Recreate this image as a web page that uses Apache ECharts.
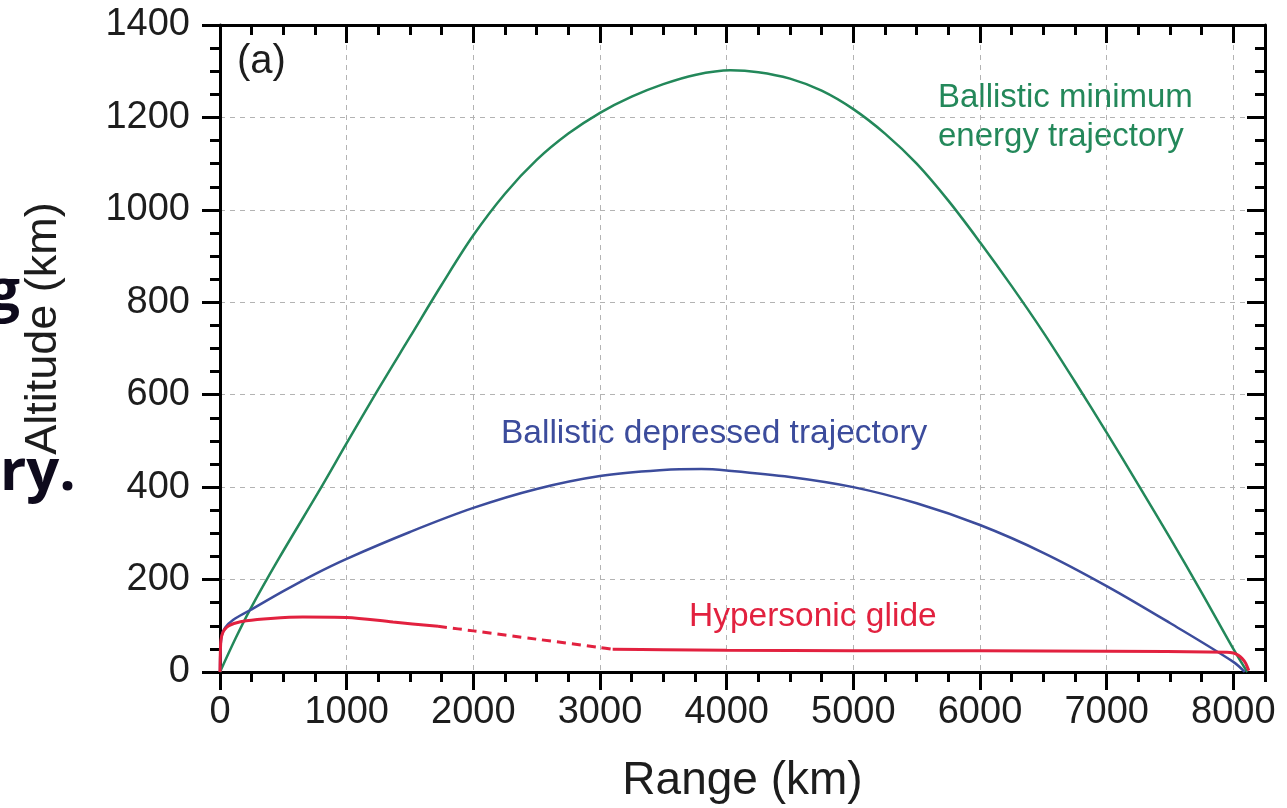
<!DOCTYPE html>
<html>
<head>
<meta charset="utf-8">
<script src="https://cdn.jsdelivr.net/npm/echarts@6/dist/echarts.min.js"></script>
<style>
  html, body { margin: 0; padding: 0; background: #ffffff; }
  #chart { width: 1287px; height: 808px; }
</style>
</head>
<body>
<div id="chart"></div>
<script>
// Trajectory profiles: [range (km), altitude (km)]
const minimumEnergy = [
  [0, 0], [125, 74], [233, 133], [457, 242], [800, 400], [1000, 495], [1250, 612],
  [1500, 725], [1750, 838], [2000, 945], [2250, 1035], [2500, 1108], [2750, 1165],
  [3000, 1210], [3250, 1245], [3500, 1272], [3750, 1292], [4030, 1302], [4250, 1298],
  [4500, 1284], [4750, 1258], [5000, 1218], [5250, 1165], [5500, 1100], [5750, 1020],
  [6000, 930], [6250, 835], [6500, 735], [6750, 628], [7000, 518], [7250, 405],
  [7500, 290], [7750, 172], [8000, 50], [8110, 0]
];
const depressed = [
  [0, 0], [4, 52], [15, 80], [40, 96], [100, 112], [233, 133], [500, 175], [750, 212],
  [1000, 245], [1500, 303], [2000, 355], [2500, 396], [3000, 424], [3500, 437],
  [3800, 439], [4000, 436], [4500, 422], [5000, 400], [5500, 365], [6000, 318],
  [6500, 258], [7000, 186], [7500, 106], [8000, 22], [8090, 0]
];
const glideBoost = [
  [0, 0], [3, 45], [8, 70], [20, 84], [40, 93], [70, 100], [110, 105], [207, 111],
  [400, 116], [654, 119], [1000, 118], [1366, 108], [1721, 99]
];
const glideUncertain = [
  [1721, 99], [2000, 89], [2500, 71], [3000, 53], [3100, 49]
];
const glideCruise = [
  [3100, 49], [3500, 48], [4000, 47], [5000, 46], [6000, 46], [7000, 45], [7950, 43],
  [8000, 41], [8040, 36], [8070, 29], [8095, 20], [8110, 11], [8122, 3]
];

// Axis ticks
const rangeTicks = [0, 1000, 2000, 3000, 4000, 5000, 6000, 7000, 8000];
const altitudeTicks = [0, 200, 400, 600, 800, 1000, 1200, 1400];
const rangeMinor = [];
for (let v = 250; v <= 8250; v += 250) if (v % 1000) rangeMinor.push(v);
const altitudeMinor = [];
for (let v = 50; v < 1400; v += 50) if (v % 200) altitudeMinor.push(v);

const FONT = 'Liberation Sans, Arial, sans-serif';
const GREEN = '#23885a', BLUE = '#3c4c9c', RED = '#e2213f';
const INK = '#1d1d1d';

const spine = { show: true, onZero: false, lineStyle: { color: '#000', width: 3 } };
const noSpine = { show: false, onZero: false };
const tickStyle = { color: '#000', width: 3 };
const plain = v => String(v);

function xAxisDef(position, values, len, inside, withSpine, extra) {
  return Object.assign({
    type: 'value', min: 0, max: 8250, interval: 1000, position: position,
    axisLine: withSpine ? spine : noSpine,
    axisTick: { show: true, customValues: values, length: len, inside: inside, lineStyle: tickStyle },
    axisLabel: { show: false },
    splitLine: { show: false }
  }, extra || {});
}
function yAxisDef(position, values, len, inside, withSpine, extra) {
  return Object.assign({
    type: 'value', min: 0, max: 1400, interval: 200, position: position,
    axisLine: withSpine ? spine : noSpine,
    axisTick: { show: true, customValues: values, length: len, inside: inside, lineStyle: tickStyle },
    axisLabel: { show: false },
    splitLine: { show: false }
  }, extra || {});
}

const gridLine = { show: true, lineStyle: { color: '#b3b3b3', width: 1, type: [5, 5] } };

const option = {
  animation: false,
  backgroundColor: '#ffffff',
  grid: { left: 220, right: 22, top: 25, bottom: 136, outerBoundsMode: 'none', containLabel: false },
  xAxis: [
    xAxisDef('bottom', rangeTicks, 18, false, true, {
      axisLabel: { show: true, customValues: rangeTicks, formatter: plain, margin: 22, fontSize: 38, color: INK, fontFamily: FONT },
      splitLine: gridLine,
      name: 'Range (km)', nameLocation: 'middle', nameGap: 86,
      nameTextStyle: { fontSize: 46, color: INK, fontFamily: FONT }
    }),
    xAxisDef('bottom', rangeMinor, 10, false, false),
    xAxisDef('top', rangeTicks, 18, true, true),
    xAxisDef('top', rangeMinor, 10, true, false)
  ],
  yAxis: [
    yAxisDef('left', altitudeTicks, 18, false, true, {
      axisLabel: { show: true, customValues: altitudeTicks, formatter: plain, margin: 30, fontSize: 38, color: INK, fontFamily: FONT },
      splitLine: gridLine,
      name: 'Altitude (km)', nameLocation: 'middle', nameGap: 154,
      nameTextStyle: { fontSize: 45, color: INK, fontFamily: FONT, padding: [0, 0, 0, 40] }
    }),
    yAxisDef('left', altitudeMinor, 10, false, false),
    yAxisDef('right', altitudeTicks, 18, true, true),
    yAxisDef('right', altitudeMinor, 10, true, false)
  ],
  series: [
    {
      name: 'Ballistic minimum energy trajectory', type: 'line', data: minimumEnergy,
      xAxisIndex: 0, yAxisIndex: 0, showSymbol: false, smooth: 0.35,
      lineStyle: { color: GREEN, width: 2.5 }, z: 3
    },
    {
      name: 'Ballistic depressed trajectory', type: 'line', data: depressed,
      xAxisIndex: 0, yAxisIndex: 0, showSymbol: false, smooth: 0.35,
      lineStyle: { color: BLUE, width: 2.5 }, z: 4
    },
    {
      name: 'Hypersonic glide', type: 'line', data: glideBoost,
      xAxisIndex: 0, yAxisIndex: 0, showSymbol: false, smooth: 0.3,
      lineStyle: { color: RED, width: 3 }, z: 5
    },
    {
      name: 'Hypersonic glide (uncertain)', type: 'line', data: glideUncertain,
      xAxisIndex: 0, yAxisIndex: 0, showSymbol: false, smooth: 0.3,
      lineStyle: { color: RED, width: 3, type: [9, 6] }, z: 5
    },
    {
      name: 'Hypersonic glide (cruise)', type: 'line', data: glideCruise,
      xAxisIndex: 0, yAxisIndex: 0, showSymbol: false, smooth: 0.3,
      lineStyle: { color: RED, width: 3 }, z: 5
    }
  ],
  graphic: [
    { type: 'text', left: 237, top: 42, style: { text: '(a)', font: '40px ' + FONT, fill: INK } },
    { type: 'text', x: 938, y: 98, style: { text: 'Ballistic minimum', font: '33px ' + FONT, fill: GREEN, textAlign: 'left', textVerticalAlign: 'middle' } },
    { type: 'text', x: 938, y: 137, style: { text: 'energy trajectory', font: '33px ' + FONT, fill: GREEN, textAlign: 'left', textVerticalAlign: 'middle' } },
    { type: 'text', x: 501, y: 434, style: { text: 'Ballistic depressed trajectory', font: '33.5px ' + FONT, fill: BLUE, textAlign: 'left', textVerticalAlign: 'middle' } },
    { type: 'text', x: 689, y: 617, style: { text: 'Hypersonic glide', font: '33.5px ' + FONT, fill: RED, textAlign: 'left', textVerticalAlign: 'middle' } },
    // fragments of the surrounding slide heading, clipped at the left edge
    { type: 'text', x: 20, y: 322, style: { text: 'g', font: 'bold 58px "Open Sans", sans-serif', fill: '#0e0a1c', textAlign: 'right', textVerticalAlign: 'bottom' } },
    { type: 'text', x: 0, y: 502, style: { text: 'ry.', font: 'bold 58px "Open Sans", sans-serif', fill: '#0e0a1c', textAlign: 'left', textVerticalAlign: 'bottom' } }
  ]
};

const chart = echarts.init(document.getElementById('chart'), null, { renderer: 'canvas' });
chart.setOption(option);
</script>
</body>
</html>
